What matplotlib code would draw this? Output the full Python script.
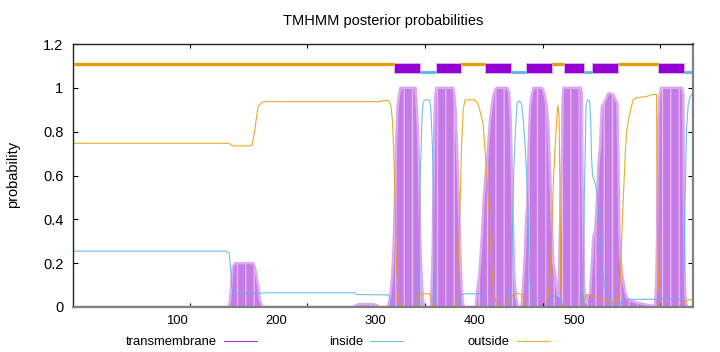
import numpy as np
import matplotlib
matplotlib.use('Agg')
import matplotlib.pyplot as plt
from matplotlib.lines import Line2D

plt.rcParams['font.family'] = ['Liberation Sans', 'DejaVu Sans']
plt.rcParams['hatch.linewidth'] = 0.9

# posterior probabilities, (residue, probability)
tm_points = [
    (1, 0), (133, 0), (134, 0.024), (135.5, 0.12), (136.3, 0.18), (138.3, 0.2), (154, 0.2),
    (155.3, 0.18), (156.7, 0.14), (158.1, 0.093), (159.6, 0.032), (161, 0.01), (162, 0),
    (239, 0), (241, 0.008), (244, 0.013), (256, 0.013), (259, 0.008), (261, 0),
    (268, 0), (270, 0.03), (271, 0.08), (272, 0.14), (273.3, 0.28), (274.5, 0.51), (275.3, 0.74),
    (276.7, 0.92), (278, 0.97), (279, 1.0), (292, 1.0), (293, 0.91), (294, 0.8), (295, 0.6),
    (296, 0.3), (297, 0.15), (298, 0.05), (299, 0),
    (305, 0), (306, 0.16), (306.5, 0.25), (307, 0.45), (307.5, 0.65), (308, 0.85), (308.5, 0.95),
    (309.5, 1.0), (324, 1.0), (325, 0.97), (326, 0.9), (327, 0.76), (328, 0.6), (329, 0.45),
    (330, 0.25), (331, 0.1), (332, 0.03), (333, 0),
    (343, 0), (344, 0.06), (346, 0.14), (347, 0.21), (348.5, 0.34), (350, 0.5), (351.5, 0.6),
    (353, 0.68), (354, 0.76), (355.3, 0.85), (356.7, 0.915), (358, 0.96), (359.5, 0.99),
    (361, 1.0), (370, 1.0), (371.5, 0.98), (372.8, 0.87), (374, 0.6), (374.6, 0.41),
    (375.9, 0.15), (377.3, 0.05), (379, 0),
    (382, 0), (383.7, 0.12), (385.1, 0.26), (386, 0.4), (387.1, 0.47), (388, 0.7), (389.4, 0.915),
    (390.8, 0.968), (392.2, 1.0), (399.4, 1.0), (400.7, 0.99), (402.1, 0.96), (403.6, 0.915),
    (405, 0.81), (406.4, 0.62), (407.8, 0.4), (409.2, 0.2), (410.6, 0.155), (412, 0.093),
    (413.4, 0.047), (414.3, 0.23), (415.5, 0.49), (416.6, 0.72), (417, 0.94), (417.7, 1.0),
    (432.6, 1.0), (433.4, 0.98), (434, 0.6), (434.5, 0.4), (435.3, 0.1), (436.7, 0.02),
    (437.6, 0.047), (440.4, 0.06), (441.9, 0.2), (443.2, 0.32), (444.7, 0.35), (446.1, 0.47),
    (447.5, 0.65), (448.9, 0.73), (450.4, 0.915), (453.2, 0.94), (456, 0.976), (460.3, 0.97),
    (461.7, 0.95), (463.7, 0.93), (464.5, 0.69), (465.4, 0.34), (466.4, 0.22), (467.7, 0.15),
    (469, 0.11), (470.2, 0.07), (471.9, 0.04), (474.5, 0.03), (480.4, 0.02), (488.9, 0.01),
    (495.7, 0.005), (496.6, 0.1), (497.4, 0.3), (497.9, 0.6), (498.6, 0.87), (499.4, 0.96),
    (500.9, 1.0), (518.7, 1.0), (519.8, 0.97), (520.4, 0.45), (520.9, 0.15), (521.7, 0.03),
    (523, 0), (528, 0),
]

inside_points = [
    (1, 0.255), (131, 0.255), (133.5, 0.245), (134.7, 0.17), (135.5, 0.093), (137, 0.062),
    (160, 0.062), (162, 0.065), (240, 0.065), (242, 0.057), (268.8, 0.055), (270.2, 0.04),
    (271.6, 0.018), (273, 0),
    (294.5, 0), (295, 0.18), (295.5, 0.41), (296, 0.63), (296.7, 0.72), (297.5, 0.88),
    (298.5, 0.935), (300, 0.945), (304, 0.945), (305, 0.9), (306.4, 0.72), (306.9, 0.57),
    (307.2, 0.34), (307.7, 0.11), (308.3, 0.02), (309.5, 0),
    (327, 0), (329, 0.03), (331, 0.055), (333, 0.06), (346, 0.06), (348, 0.065), (349, 0.04),
    (350.5, 0.01), (352, 0),
    (371, 0), (372.3, 0.02), (373.7, 0.11), (374.6, 0.41), (375.4, 0.6), (376.9, 0.8),
    (378.3, 0.93), (380, 0.94), (382, 0.93), (383.5, 0.86), (385, 0.75), (386.5, 0.6),
    (387.7, 0.41), (388.3, 0.26), (389.5, 0.11), (391, 0.03), (393, 0),
    (404, 0), (406, 0.03), (409, 0.05), (412, 0.05), (415, 0.03), (417, 0),
    (434, 0), (435, 0.26), (435.5, 0.49), (436.3, 0.72), (437, 0.92), (438.3, 0.945),
    (440, 0.94), (441, 0.85), (441.6, 0.69), (442.5, 0.6), (445, 0.56), (446.4, 0.52),
    (447.8, 0.41), (449.2, 0.29), (450.6, 0.17), (453.5, 0.078), (456.4, 0.04),
    (459.2, 0.018), (462, 0),
    (465, 0), (466, 0.017), (469, 0.029), (472, 0.035), (519.5, 0.035), (520.4, 0.2),
    (521, 0.45), (521.7, 0.58), (522.5, 0.81), (524, 0.93), (526, 0.965), (528, 0.973),
]

outside_points = [
    (1, 0.747), (133, 0.747), (135, 0.74), (137, 0.735), (151, 0.735), (153, 0.74),
    (155.3, 0.81), (156.7, 0.87), (158.1, 0.915), (161, 0.933), (164, 0.937), (262, 0.937),
    (264, 0.942), (269, 0.942), (271, 0.92), (272.3, 0.85), (273.3, 0.72), (274.5, 0.49),
    (275.3, 0.26), (276.7, 0.08), (278, 0.02), (280, 0),
    (292.5, 0), (293, 0.01), (295, 0.06), (304, 0.06), (305.5, 0.03), (306.5, 0),
    (326.5, 0), (327.3, 0.02), (328.5, 0.26), (330, 0.49), (331, 0.72), (332.5, 0.9),
    (334, 0.945), (342, 0.945), (345, 0.93), (347, 0.89), (349.5, 0.83), (351, 0.72),
    (352.5, 0.6), (354, 0.47), (355.5, 0.32), (357, 0.17), (358.3, 0.063), (361, 0.01),
    (363, 0),
    (369.5, 0), (372.3, 0.045), (378, 0.063), (382.3, 0.058), (386.5, 0.005), (388, 0),
    (402, 0), (405, 0.063), (406.4, 0.14), (407.8, 0.34), (409.2, 0.57), (410.6, 0.72),
    (412, 0.85), (413, 0.92), (414, 0.88), (414.4, 0.72), (415, 0.41), (415.5, 0.11),
    (416.3, 0.02), (418, 0),
    (434, 0), (435.5, 0.03), (437, 0.055), (440, 0.057), (445, 0.045), (450, 0.035),
    (455, 0.027), (460, 0.024), (464, 0.025), (465, 0.05), (466, 0.11), (467, 0.26),
    (468, 0.41), (469.3, 0.57), (470.4, 0.7), (471.5, 0.8), (473, 0.85), (475, 0.9),
    (477, 0.945), (480, 0.955), (488, 0.96), (494, 0.97), (497, 0.97), (497.2, 0.72),
    (497.7, 0.41), (498.6, 0.11), (500, 0.01), (501, 0),
    (519.5, 0), (521.5, 0.03), (528, 0.035),
]

# predicted topology drawn as a strip above the curves
tm_segments = [(274, 296), (309, 331), (351, 373), (386, 408), (418, 435), (442, 464), (498, 520)]
inside_segments = [(296, 309), (373, 386), (435, 442), (520, 528)]
outside_segments = [(1, 274), (331, 351), (408, 418), (464, 498)]

xticks = [100, 200, 300, 400, 500]
yticks = [0, 0.2, 0.4, 0.6, 0.8, 1.0, 1.2]
ytick_labels = ['0', '0.2', '0.4', '0.6', '0.8', '1', '1.2']

c_tm = '#9400D3'
c_tm_fill = '#C67AE6'
c_in = '#56B4E9'
c_out = '#E69F00'

tm_x, tm_y = zip(*tm_points)
in_x, in_y = zip(*inside_points)
out_x, out_y = zip(*outside_points)

fig = plt.figure(figsize=(7.2, 3.52), dpi=100)
ax = fig.add_axes([73 / 720, 45 / 352, 620 / 720, 263 / 352])

# impulses look: pale rim, purple fill with pale vertical stripes
ax.plot(tm_x, tm_y, color='#DDAAF0', lw=1.8)
ax.fill_between(tm_x, 0, tm_y, facecolor=c_tm_fill, edgecolor='#E4BAF3', hatch='||', lw=0)
ax.plot(in_x, in_y, color=c_in, lw=0.8, alpha=0.85)
ax.plot(out_x, out_y, color=c_out, lw=0.8, alpha=0.85)

# topology strip
ax.broken_barh([(a, b - a) for a, b in tm_segments], (1.068, 0.046),
               facecolor=c_tm, edgecolor='#DDB0F2', lw=0.7)
for a, b in inside_segments:
    ax.plot([a, b], [1.072, 1.072], color=c_in, lw=2.0, solid_capstyle='butt')
for a, b in outside_segments:
    ax.plot([a, b], [1.111, 1.111], color=c_out, lw=2.3, solid_capstyle='butt')

ax.set_xlim(0.5, 528)
ax.set_ylim(0, 1.2)
ax.set_yticks(yticks, labels=ytick_labels)
ax.set_xticks(xticks, labels=[])
ax.tick_params(direction='in', length=3.5, width=0.8, top=True, right=True,
               labelsize=10.5, pad=7)
ax.tick_params(axis='x', length=3)

for side in ['left', 'top']:
    ax.spines[side].set_color('#222222')
    ax.spines[side].set_linewidth(1.0)
for side in ['bottom', 'right']:
    ax.spines[side].set_color('#808080')
    ax.spines[side].set_linewidth(1.6)


# the tick numbers on the bottom sit on a slightly different scale than the ticks
def to_label(r):
    return 1.18388 * np.asarray(r) - 5.29


def to_res(v):
    return (np.asarray(v) + 5.29) / 1.18388


sec = ax.secondary_xaxis('bottom', functions=(to_label, to_res))
sec.set_xticks(xticks)
sec.tick_params(length=0, labelsize=9.4, pad=6)
sec.spines['bottom'].set_visible(False)

fig.text(383 / 720, 1 - 21 / 352, 'TMHMM posterior probabilities', ha='center', va='center',
         fontsize=10.5)
fig.text(13 / 720, 1 - 174 / 352, 'probability', rotation=90, ha='center', va='center',
         fontsize=10.5)

# legend, gnuplot style: label then sample
legend_items = [('transmembrane', c_tm, 217), ('inside', c_in, 363), ('outside', c_out, 510)]
ly = 1 - 342 / 352
for name, col, xr in legend_items:
    fig.text(xr / 720, ly, name, ha='right', va='center', fontsize=9.4)
    fig.add_artist(Line2D([(xr + 7) / 720, (xr + 40) / 720], [ly + 0.002, ly + 0.002],
                          color=col, lw=0.8, alpha=0.8))

fig.savefig('out.png', dpi=100)
